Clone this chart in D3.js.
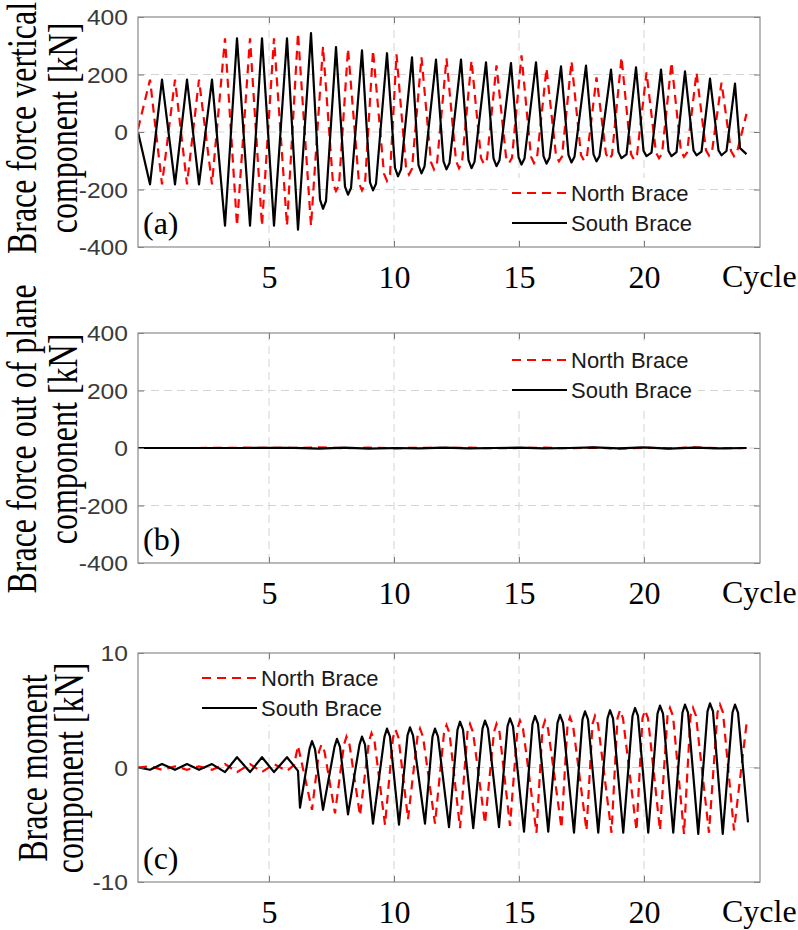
<!DOCTYPE html>
<html>
<head>
<meta charset="utf-8">
<script src="https://cdn.jsdelivr.net/npm/d3@7"></script>
<style>
  body { margin: 0; background: #fff; }
  svg { display: block; }
</style>
</head>
<body>
<div id="chart"></div>
<script>
// values, [cycle, value]
const cycleTicks = [5, 10, 15, 20];
const forceTicks = [400, 200, 0, -200, -400];
const forceGrid = [200, 0, -200];
const momentTicks = [10, 0, -10];
const momentGrid = [0];
const seriesNames = ["North Brace", "South Brace"];

const verticalNorth = [
  [-0.24, 10], [0.24, 182], [0.72, -182], [1.24, 182], [1.72, -182], [2.2, 182], [2.72, -182],
  [3.24, 326], [3.72, -326], [4.24, 326], [4.72, -326], [5.2, 326], [5.72, -326],
  [6.16, 344], [6.68, -326],
  [7.16, 297], [7.56, -180], [7.68, -205], [7.8, -185],
  [8.16, 290], [8.6, -178], [8.72, -203], [8.84, -182],
  [9.16, 284], [9.6, -145], [9.72, -170], [9.84, -150],
  [10.1, 270], [10.48, -122], [10.6, -148], [10.72, -128],
  [11.1, 260], [11.48, -105], [11.6, -130], [11.72, -110],
  [12.1, 256], [12.48, -100], [12.6, -126], [12.72, -106],
  [13.1, 249], [13.48, -90], [13.6, -112], [13.72, -94],
  [14.1, 232], [14.48, -86], [14.6, -108], [14.72, -90],
  [15.1, 267], [15.48, -86], [15.6, -108], [15.72, -90],
  [16.1, 221], [16.48, -82], [16.6, -102], [16.72, -86],
  [17.1, 246], [17.48, -80], [17.6, -100], [17.72, -84],
  [18.1, 190], [18.48, -76], [18.6, -95], [18.72, -80],
  [19.1, 260], [19.48, -77], [19.6, -96], [19.72, -80],
  [20.1, 207], [20.48, -72], [20.6, -91], [20.72, -76],
  [21.1, 242], [21.48, -68], [21.6, -86], [21.72, -72],
  [22.1, 207], [22.48, -64], [22.6, -82], [22.72, -68],
  [23.1, 172], [23.48, -66], [23.6, -84], [23.72, -70],
  [24.1, 63]
];
const verticalSouth = [
  [-0.24, 0], [0.24, -182], [0.72, 182], [1.24, -182], [1.72, 182], [2.2, -182], [2.72, 182],
  [3.24, -326], [3.72, 326], [4.24, -326], [4.72, 326], [5.2, -326], [5.72, 326],
  [6.16, -340], [6.68, 344],
  [7.04, -235], [7.16, -267], [7.28, -240], [7.68, 295],
  [8.04, -190], [8.16, -218], [8.28, -195], [8.72, 284],
  [9.04, -175], [9.16, -203], [9.28, -180], [9.72, 274],
  [10.04, -125], [10.16, -154], [10.28, -130], [10.72, 260],
  [10.98, -115], [11.1, -144], [11.22, -120], [11.68, 252],
  [11.98, -102], [12.1, -130], [12.22, -108], [12.68, 252],
  [12.98, -98], [13.1, -126], [13.22, -104], [13.68, 242],
  [13.98, -92], [14.1, -119], [14.22, -98], [14.68, 240],
  [14.98, -87], [15.1, -113], [15.22, -92], [15.68, 242],
  [15.98, -84], [16.1, -110], [16.22, -90], [16.68, 228],
  [16.98, -80], [17.1, -106], [17.22, -86], [17.68, 231],
  [17.98, -78], [18.1, -102], [18.22, -84], [18.68, 217],
  [18.98, -70], [19.1, -91], [19.3, -78], [19.68, 225],
  [19.98, -65], [20.1, -84], [20.3, -72], [20.68, 217],
  [20.98, -66], [21.1, -84], [21.3, -70], [21.64, 211],
  [21.98, -64], [22.1, -81], [22.3, -68], [22.64, 186],
  [22.98, -64], [23.1, -81], [23.3, -66], [23.64, 168],
  [23.84, -56], [24.1, -77]
];

const outPlaneNorth = [
  [-0.24, 0], [2, 0], [4, 1], [6, 0], [7, 2], [8, -1], [9, 1], [10, -1], [11, 1], [12, 0],
  [13, 1], [14, -1], [15, 0], [16, 1], [17, -1], [18, 1], [19, -2], [20, 1], [21, -1],
  [22, 2], [23, -1], [24.1, 0]
];
const outPlaneSouth = [
  [-0.24, 0], [2, 0], [4, 0], [6, 0.5], [7, -2], [8, 1], [9, -2], [10, 0], [11, -1], [12, 1],
  [13, -1], [14, 0], [15, 1], [16, -1], [17, 0], [18, 2], [19, -1], [20, 2], [21, -2],
  [22, 1], [23, -1], [24.1, 0]
];

const momentNorth = [
  [-0.24, 0], [0.24, 0.1], [0.72, -0.2], [1.24, 0.1], [1.72, -0.2], [2.2, 0.1], [2.72, -0.2],
  [3.24, 0.3], [3.72, -0.4], [4.24, 0.3], [4.72, -0.4], [5.2, 0.3], [5.72, -0.3], [6.0, 0.2],
  [6.16, 1.9], [6.72, -3.7],
  [7.0, 1.4], [7.1, 2.0], [7.22, 1.4], [7.64, -4.0],
  [8.0, 2.0], [8.1, 2.7], [8.22, 2.0], [8.64, -4.2],
  [9.0, 2.3], [9.1, 3.0], [9.22, 2.3], [9.64, -5.0],
  [9.96, 2.6], [10.06, 3.3], [10.18, 2.6], [10.56, -4.5],
  [10.94, 2.7], [11.04, 3.4], [11.16, 2.7], [11.64, -4.9],
  [12.0, 3.0], [12.1, 3.7], [12.22, 3.0], [12.64, -5.3],
  [12.94, 3.1], [13.04, 3.8], [13.16, 3.1], [13.64, -4.9],
  [14.0, 3.1], [14.1, 3.8], [14.22, 3.1], [14.64, -5.1],
  [14.94, 3.4], [15.04, 4.1], [15.16, 3.4], [15.7, -5.7],
  [15.94, 3.4], [16.04, 4.1], [16.16, 3.4], [16.7, -5.3],
  [16.94, 3.7], [17.04, 4.4], [17.16, 3.7], [17.7, -5.5],
  [17.94, 3.8], [18.04, 4.5], [18.16, 3.8], [18.7, -5.7],
  [18.94, 4.3], [19.04, 5.0], [19.16, 4.3], [19.7, -5.5],
  [19.94, 4.3], [20.04, 5.0], [20.16, 4.3], [20.64, -5.5],
  [20.94, 4.5], [21.04, 5.2], [21.16, 4.5], [21.6, -5.8],
  [21.86, 4.5], [21.96, 5.2], [22.08, 4.5], [22.6, -5.7],
  [22.94, 4.8], [23.04, 5.5], [23.16, 4.8], [23.6, -5.5],
  [24.1, 3.8]
];
const momentSouth = [
  [-0.24, 0], [0.24, -0.2], [0.72, 0.3], [1.24, -0.2], [1.72, 0.3], [2.2, -0.2], [2.72, 0.3],
  [3.24, -0.4], [3.72, 0.9], [4.24, -0.4], [4.72, 0.9], [5.2, -0.4], [5.72, 0.9], [6.16, -0.3],
  [6.24, -3.5],
  [6.62, 1.6], [6.72, 2.3], [6.84, 1.6], [7.16, -3.7],
  [7.62, 1.8], [7.72, 2.5], [7.84, 1.8], [8.16, -4.1],
  [8.62, 2.0], [8.72, 2.7], [8.84, 2.0], [9.16, -4.9],
  [9.62, 2.7], [9.72, 3.4], [9.84, 2.7], [10.2, -5.0],
  [10.54, 2.8], [10.64, 3.5], [10.76, 2.8], [11.24, -4.9],
  [11.54, 2.7], [11.64, 3.4], [11.76, 2.7], [12.2, -5.2],
  [12.54, 3.3], [12.64, 4.0], [12.76, 3.3], [13.17, -5.3],
  [13.54, 3.4], [13.64, 4.1], [13.76, 3.4], [14.2, -5.2],
  [14.54, 3.6], [14.64, 4.3], [14.76, 3.6], [15.2, -5.6],
  [15.54, 3.8], [15.64, 4.5], [15.76, 3.8], [16.17, -5.6],
  [16.54, 3.9], [16.64, 4.6], [16.76, 3.9], [17.2, -5.7],
  [17.54, 4.2], [17.64, 4.9], [17.76, 4.2], [18.17, -5.7],
  [18.54, 4.3], [18.64, 5.0], [18.76, 4.3], [19.17, -5.7],
  [19.54, 4.5], [19.64, 5.2], [19.76, 4.5], [20.17, -5.7],
  [20.54, 4.7], [20.64, 5.4], [20.76, 4.7], [21.17, -5.7],
  [21.54, 4.8], [21.64, 5.5], [21.76, 4.8], [22.17, -5.8],
  [22.54, 4.9], [22.64, 5.6], [22.76, 4.9], [23.15, -5.8],
  [23.54, 4.8], [23.64, 5.5], [23.76, 4.8], [24.16, -4.8]
];

const W = 798, H = 930;
const serif = "'Times New Roman', 'Liberation Serif', serif";
const sans = "Arial, 'Liberation Sans', sans-serif";

const svg = d3.select("#chart").append("svg")
    .attr("width", W)
    .attr("height", H);

const x = d3.scaleLinear().domain([-0.24, 24.64]).range([138, 760]);

const panels = [
  { top: 17, bottom: 247, domain: [-400, 400], ticks: forceTicks, grid: forceGrid,
    north: verticalNorth, south: verticalSouth,
    title: ["Brace force vertical", "component [kN]"], titleX: [36, 77], titleY: 128,
    tag: "(a)", legend: [512, 193] },
  { top: 333, bottom: 563, domain: [-400, 400], ticks: forceTicks, grid: forceGrid,
    north: outPlaneNorth, south: outPlaneSouth,
    title: ["Brace force out of plane", "component [kN]"], titleX: [36, 77], titleY: 439,
    tag: "(b)", legend: [512, 360] },
  { top: 653, bottom: 882, domain: [-10, 10], ticks: momentTicks, grid: momentGrid,
    north: momentNorth, south: momentSouth,
    title: ["Brace moment", "component [kN]"], titleX: [47, 83], titleY: 768,
    tag: "(c)", legend: [202, 678] }
];

panels.forEach((p, i) => drawPanel(p, i));

function drawPanel(p, i) {
    const y = d3.scaleLinear().domain(p.domain).range([p.bottom, p.top]);
    const [x0, x1] = x.range();
    const g = svg.append("g");

    // dashed grid
    g.selectAll(".gx").data(cycleTicks).enter().append("line")
        .attr("x1", d => x(d)).attr("x2", d => x(d))
        .attr("y1", p.top).attr("y2", p.bottom)
        .attr("stroke", "#d4d4d4").attr("stroke-dasharray", "8,5");
    g.selectAll(".gy").data(p.grid).enter().append("line")
        .attr("x1", x0).attr("x2", x1)
        .attr("y1", d => y(d)).attr("y2", d => y(d))
        .attr("stroke", "#d4d4d4").attr("stroke-dasharray", "8,5");

    // curves
    const clipId = "clip" + i;
    svg.append("clipPath").attr("id", clipId).append("rect")
        .attr("x", x0).attr("y", p.top).attr("width", x1 - x0).attr("height", p.bottom - p.top);
    const line = d3.line().x(d => x(d[0])).y(d => y(d[1]));
    g.append("path").datum(p.north)
        .attr("clip-path", `url(#${clipId})`)
        .attr("d", line).attr("fill", "none")
        .attr("stroke", "#ff0000").attr("stroke-width", 2.2)
        .attr("stroke-dasharray", "9,6");
    g.append("path").datum(p.south)
        .attr("clip-path", `url(#${clipId})`)
        .attr("d", line).attr("fill", "none")
        .attr("stroke", "#000").attr("stroke-width", 2.2)
        .attr("stroke-linejoin", "round");

    // box and inward ticks on all sides
    const left = g.append("g").attr("transform", `translate(${x0},0)`)
        .call(d3.axisLeft(y).tickValues(p.ticks).tickSize(-6).tickPadding(10).tickFormat(d => String(d)));
    const right = g.append("g").attr("transform", `translate(${x1},0)`)
        .call(d3.axisRight(y).tickValues(p.ticks).tickSize(-6).tickFormat(""));
    const bottom = g.append("g").attr("transform", `translate(0,${p.bottom})`)
        .call(d3.axisBottom(x).tickValues(cycleTicks).tickSize(-6).tickPadding(18));
    const top = g.append("g").attr("transform", `translate(0,${p.top})`)
        .call(d3.axisTop(x).tickValues(cycleTicks).tickSize(-6).tickFormat(""));
    [left, right, bottom, top].forEach(a => {
        a.select(".domain").remove();
        a.selectAll(".tick line").attr("stroke", "#7a7a7a");
    });
    g.append("rect")
        .attr("x", x0).attr("y", p.top)
        .attr("width", x1 - x0).attr("height", p.bottom - p.top)
        .attr("fill", "none").attr("stroke", "#8a8a8a").attr("stroke-width", 1.2);

    left.selectAll(".tick text")
        .attr("x", null).attr("dy", "0.36em")
        .attr("transform", "translate(-10,0) scale(1.12,1)")
        .style("font-family", sans).style("font-size", "22px").attr("fill", "#3a3a3a");
    bottom.selectAll(".tick text")
        .style("font-family", serif).style("font-size", "32px").attr("fill", "#000");

    g.append("text")
        .attr("x", 722).attr("y", p.bottom + 40)
        .style("font-family", serif).style("font-size", "32px")
        .text("Cycle");

    // panel tag
    g.append("text")
        .attr("x", 143).attr("y", p.bottom - 13)
        .style("font-family", serif).style("font-size", "32px")
        .text(p.tag);

    // two-line y title, stretched like the original figure
    p.title.forEach((t, k) => {
        g.append("text")
            .attr("transform", `translate(${p.titleX[k]},${p.titleY}) scale(1.3,1) rotate(-90)`)
            .attr("text-anchor", "middle")
            .style("font-family", serif).style("font-size", "32px")
            .text(t);
    });

    // legend
    const [lx, ly] = p.legend;
    const leg = g.append("g");
    leg.append("rect")
        .attr("x", lx - 4).attr("y", ly - 15)
        .attr("width", 190).attr("height", 62)
        .attr("fill", "#fff");
    seriesNames.forEach((name, k) => {
        const yy = ly + k * 30;
        leg.append("line")
            .attr("x1", lx).attr("x2", lx + 55)
            .attr("y1", yy).attr("y2", yy)
            .attr("stroke", k === 0 ? "#ff0000" : "#000")
            .attr("stroke-width", 2)
            .attr("stroke-dasharray", k === 0 ? "9,6" : null);
        leg.append("text")
            .attr("x", lx + 59).attr("y", yy).attr("dy", "0.36em")
            .style("font-family", sans).style("font-size", "22px").attr("fill", "#1a1a1a")
            .text(name);
    });
}
</script>
</body>
</html>
